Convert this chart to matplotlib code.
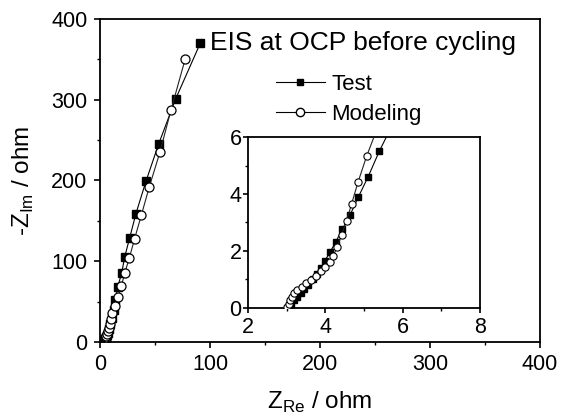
import matplotlib
matplotlib.use("Agg")
import matplotlib.pyplot as plt
from matplotlib.lines import Line2D
from matplotlib.ticker import MultipleLocator

plt.rcParams['font.family'] = ['Liberation Sans', 'DejaVu Sans']

# Nyquist data, high frequency -> low frequency
test_re = [3.05, 3.12, 3.20, 3.28, 3.37, 3.46, 3.56, 3.67, 3.78, 3.88, 3.99, 4.12,
           4.27, 4.44, 4.64, 4.85, 5.11, 5.40, 5.80, 6.30, 7.0, 8.2, 9.5, 11.0,
           12.5, 14.0, 16.0, 19.7, 22.4, 27.0, 32.7, 41.8, 53.3, 68.8, 91.2]
test_im = [0.05, 0.15, 0.27, 0.40, 0.53, 0.67, 0.82, 1.00, 1.20, 1.42, 1.66, 1.95,
           2.32, 2.76, 3.26, 3.88, 4.61, 5.51, 6.6, 8.2, 11.5, 16.0, 22.0, 30.0,
           40.0, 52.0, 68.0, 85.0, 105.0, 129.0, 159.0, 199.0, 245.0, 301.0, 370.0]

model_re = [3.02, 3.05, 3.09, 3.14, 3.20, 3.28, 3.39, 3.50, 3.62, 3.76, 3.88, 3.99,
            4.11, 4.21, 4.31, 4.42, 4.55, 4.68, 4.85, 5.07, 5.40, 5.80, 6.30, 7.0,
            7.8, 8.8, 9.8, 11.3, 13.3, 16.5, 19.4, 22.4, 26.7, 31.5, 37.6, 44.8,
            54.5, 64.5, 77.6]
model_im = [0.05, 0.15, 0.28, 0.40, 0.51, 0.63, 0.75, 0.87, 0.98, 1.12, 1.28, 1.45,
            1.62, 1.84, 2.15, 2.56, 3.05, 3.65, 4.43, 5.33, 6.5, 8.0, 10.0, 13.0,
            17.0, 22.0, 28.0, 36.0, 45.0, 56.0, 69.0, 85.0, 104.0, 128.0, 157.0, 192.0,
            235.0, 287.0, 351.0]

fig = plt.figure(figsize=(5.7, 4.19), dpi=100)
ax = fig.add_axes([0.1754, 0.1838, 0.772, 0.771])

ax.plot(test_re, test_im, '-', color='black', lw=0.8, marker='s', ms=5.8,
        mfc='black', mec='black', zorder=2)
ax.plot(model_re, model_im, '-', color='#222222', lw=0.8, marker='o', ms=6.5,
        mfc='white', mec='black', mew=0.9, zorder=3)

ax.set_xlim(0, 400)
ax.set_ylim(0, 400)
ax.xaxis.set_major_locator(MultipleLocator(100))
ax.xaxis.set_minor_locator(MultipleLocator(50))
ax.yaxis.set_major_locator(MultipleLocator(100))
ax.yaxis.set_minor_locator(MultipleLocator(50))
ax.tick_params(which='major', direction='out', length=4, width=1.2, labelsize=15.5, pad=5)
ax.tick_params(which='minor', direction='out', length=2.5, width=1.0)
for s in ax.spines.values():
    s.set_linewidth(1.3)

ax.set_xlabel(r'Z$_\mathregular{Re}$ / ohm', fontsize=17.5, labelpad=10)
ax.set_ylabel(r'-Z$_\mathregular{Im}$ / ohm', fontsize=17.5, labelpad=11)

ax.text(100, 370, 'EIS at OCP before cycling', fontsize=19, va='center', ha='left')

handles = [Line2D([], [], color='black', lw=0.8, marker='s', ms=5, mfc='black', mec='black'),
           Line2D([], [], color='black', lw=0.8, marker='o', ms=6, mfc='white', mec='black')]
leg = ax.legend(handles, ['Test', 'Modeling'], loc='upper left',
                bbox_to_anchor=(0.40, 0.83), frameon=False, fontsize=16,
                handlelength=2.2, handletextpad=0.3, labelspacing=0.4,
                borderaxespad=0, borderpad=0)

# zoomed view of the high frequency region
ins = fig.add_axes([0.435, 0.265, 0.407, 0.408])
ins.plot(test_re, test_im, '-', color='black', lw=0.8, marker='s', ms=4.5,
         mfc='black', mec='black', zorder=2)
ins.plot(model_re, model_im, '-', color='#222222', lw=0.8, marker='o', ms=5.2,
         mfc='white', mec='black', mew=0.8, zorder=3)
ins.set_xlim(2, 8)
ins.set_ylim(0, 6)
ins.xaxis.set_major_locator(MultipleLocator(2))
ins.xaxis.set_minor_locator(MultipleLocator(1))
ins.yaxis.set_major_locator(MultipleLocator(2))
ins.yaxis.set_minor_locator(MultipleLocator(1))
ins.tick_params(which='major', direction='out', length=3.5, width=1.2, labelsize=15.5, pad=1)
ins.tick_params(axis='x', which='major', pad=3)
ins.tick_params(which='minor', direction='out', length=2, width=1.0)
for s in ins.spines.values():
    s.set_linewidth(1.3)

fig.savefig('out.png', dpi=100)
